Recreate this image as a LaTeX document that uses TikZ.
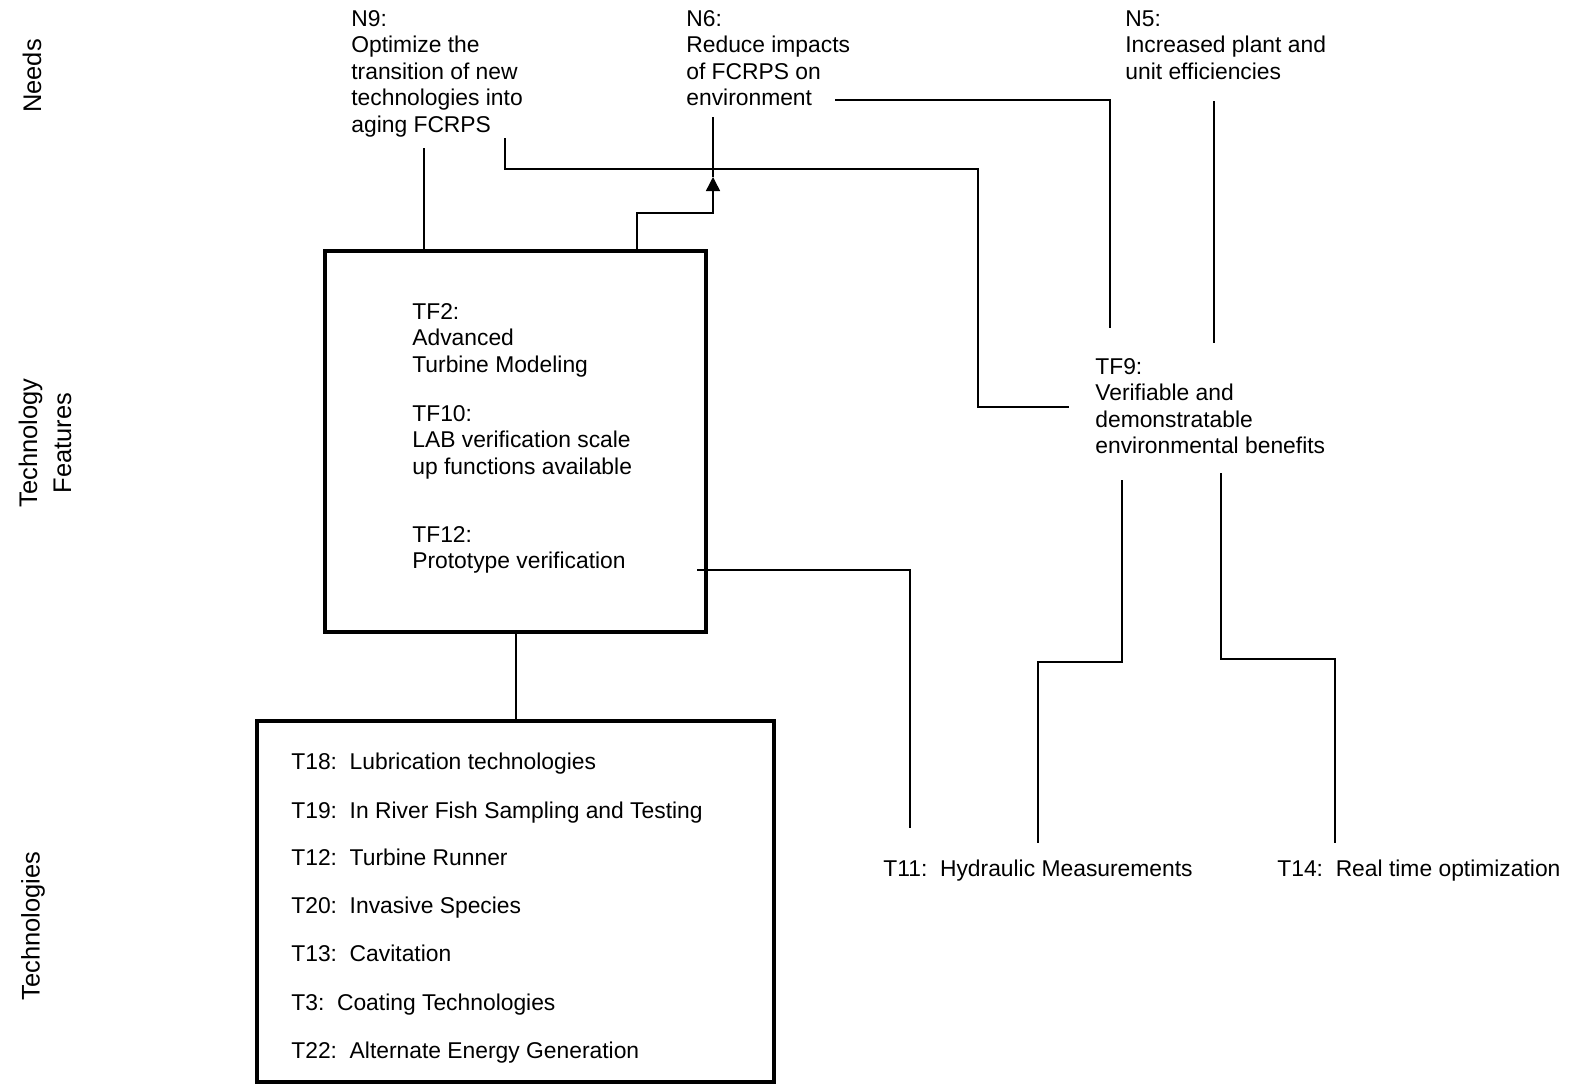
\documentclass[tikz,border=0pt]{standalone}
\usepackage{fontspec}
\setmainfont{Liberation Sans}
\usetikzlibrary{arrows.meta}

% multi-line texts are placed by the baseline of their last line
\tikzset{
  lbl/.style={inner sep=0pt, anchor=base west, align=left,
    font=\fontsize{13}{15.1}\selectfont},
  side/.style={rotate=90, inner sep=0pt, align=center,
    font=\fontsize{14.5}{19.4}\selectfont},
  bigbox/.style={draw, line width=0.08cm, inner sep=0pt},
  conn/.style={draw, line width=0.03cm},
}

\begin{document}
\begin{tikzpicture}[x=0.02cm, y=-0.02cm]
\useasboundingbox (0,0) rectangle (1577,1086);

% row captions
\node[side] (capneeds) at (32,76) {Needs};
\node[side] (capfeat) at (45,443) {Technology\\Features};
\node[side] (captech) at (33,926) {Technologies};

% needs
\node[lbl] (n9) at (351,132.2) {N9:\\Optimize the\\transition of new\\technologies into\\aging FCRPS};
\node[lbl] (n6) at (686,105.6) {N6:\\Reduce impacts\\of FCRPS on\\environment};
\node[lbl] (n5) at (1125,79.1) {N5:\\Increased plant and\\unit efficiencies};

% technology features
\node[bigbox, minimum width=7.62cm, minimum height=7.62cm] (tfbox) at (515.5,441.5) {};
\node[lbl] (tf2) at (412,372.1) {TF2:\\Advanced\\Turbine Modeling};
\node[lbl] (tf10) at (412,474.1) {TF10:\\LAB verification scale\\up functions available};
\node[lbl] (tf12) at (412,568.6) {TF12:\\Prototype verification};
\node[lbl] (tf9) at (1095,453.6) {TF9:\\Verifiable and\\demonstratable\\environmental benefits};

% technologies
\node[bigbox, minimum width=10.34cm, minimum height=7.22cm] (techbox) at (515.5,901.5) {};
\node[lbl] (t18) at (291,769) {T18:\ \ Lubrication technologies};
\node[lbl] (t19) at (291,818) {T19:\ \ In River Fish Sampling and Testing};
\node[lbl] (t12) at (291,865) {T12:\ \ Turbine Runner};
\node[lbl] (t20) at (291,913) {T20:\ \ Invasive Species};
\node[lbl] (t13) at (291,961) {T13:\ \ Cavitation};
\node[lbl] (t3) at (291,1010) {T3:\ \ Coating Technologies};
\node[lbl] (t22) at (291,1058) {T22:\ \ Alternate Energy Generation};
\node[lbl] (t11) at (883,876) {T11:\ \ Hydraulic Measurements};
\node[lbl] (t14) at (1277,876) {T14:\ \ Real time optimization};

% connector end points next to the texts
\coordinate (n9a) at (424,148);
\coordinate (n9b) at (505,138);
\coordinate (n6s) at (713,117);
\coordinate (n6tip) at (713,177);
\coordinate (n6e) at (835,100);
\coordinate (n5s) at (1214,101);
\coordinate (tf9w) at (1069,407);
\coordinate (tf9n) at (1110,328);
\coordinate (tf9n2) at (1214,343);
\coordinate (tf9s1) at (1122,480);
\coordinate (tf9s2) at (1221,473);
\coordinate (tf12e) at (697,570);
\coordinate (t11a) at (910,828);
\coordinate (t11b) at (1038,843);
\coordinate (t14a) at (1335,843);

% connectors
\draw[conn] (n9a) -- (tfbox.north -| n9a);
\draw[conn] (n9b) -- (505,169) -- (978,169) -- (978,407) -- (tf9w);
\draw[conn] (n6s) -- (n6tip);
\draw[conn, -{Triangle[width=0.28cm, length=0.28cm]}]
  (tfbox.north -| 637,0) -- (637,213) -- (713,213) -- (n6tip);
\draw[conn] (n6e) -- (1110,100) -- (tf9n);
\draw[conn] (n5s) -- (tf9n2);
\draw[conn] (tf12e) -- (910,570) -- (t11a);
\draw[conn] (tf9s1) -- (1122,662) -- (1038,662) -- (t11b);
\draw[conn] (tf9s2) -- (1221,659) -- (1335,659) -- (t14a);
\draw[conn] (tfbox.south -| 516,0) -- (techbox.north -| 516,0);
\end{tikzpicture}
\end{document}
